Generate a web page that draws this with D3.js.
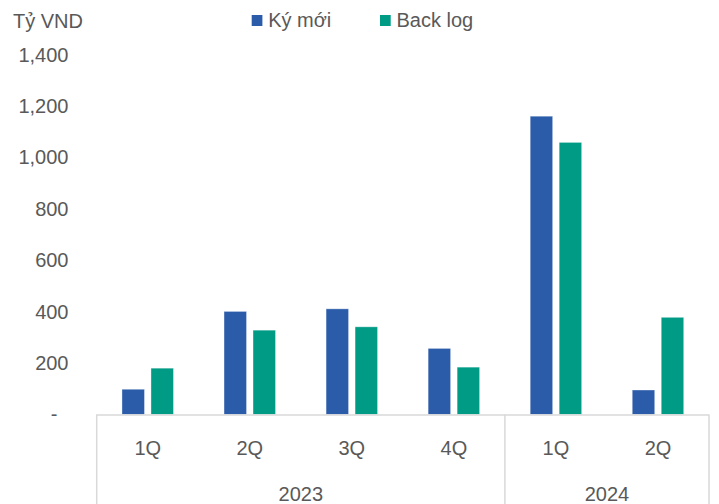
<!DOCTYPE html>
<html>
<head>
<meta charset="utf-8">
<script src="https://cdn.jsdelivr.net/npm/d3@7"></script>
<style>
  html, body { margin: 0; padding: 0; background: #fff; }
  svg { display: block; }
  text { font-family: "Liberation Sans", Arial, sans-serif; fill: #595959; }
</style>
</head>
<body>
<svg id="chart" width="719" height="504"></svg>
<script>
// Quarterly contract values (tỷ VND)
const quarters = ["1Q", "2Q", "3Q", "4Q", "1Q", "2Q"];
const years = ["2023", "2023", "2023", "2023", "2024", "2024"];
const yearGroups = ["2023", "2024"];
const seriesNames = ["Ký mới", "Back log"];
const kyMoi = [98, 401, 411, 257, 1161, 95];
const backLog = [180, 328, 341, 184, 1059, 378];
const yTicks = [0, 200, 400, 600, 800, 1000, 1200, 1400];
const unitLabel = "Tỷ VND";

const colors = { "Ký mới": "#2b5caa", "Back log": "#009b85" };

const svg = d3.select("#chart");
const plot = { left: 96.7, right: 709, top: 54.8, bottom: 414.4 };

const rows = quarters.map((q, i) => ({
  key: i, quarter: q, year: years[i],
  values: { "Ký mới": kyMoi[i], "Back log": backLog[i] }
}));

const y = d3.scaleLinear().domain([0, 1400]).range([plot.bottom, plot.top]);
const x0 = d3.scaleBand().domain(rows.map(r => r.key)).range([plot.left, plot.right]).padding(0);
const clusterW = 51.5;
const x1 = d3.scaleBand().domain(seriesNames)
  .range([(x0.bandwidth() - clusterW) / 2, (x0.bandwidth() + clusterW) / 2])
  .paddingInner(0.224).paddingOuter(0);

// Y axis: labels only
const yAxis = d3.axisLeft(y).tickValues(yTicks).tickSize(0).tickPadding(0)
  .tickFormat(d => d === 0 ? "-" : d3.format(",")(d));
const gy = svg.append("g").attr("transform", "translate(68.5,0)").call(yAxis);
gy.select(".domain").remove();
gy.selectAll("text").style("font-size", "20px").attr("fill", "#595959")
  .attr("font-family", "Liberation Sans, Arial, sans-serif")
  .attr("dx", d => d === 0 ? -11 : 0);

// Bars
const groups = svg.append("g").selectAll("g").data(rows).join("g")
  .attr("transform", d => `translate(${x0(d.key)},0)`);
groups.selectAll("rect")
  .data(d => seriesNames.map(s => ({ s, v: d.values[s] })))
  .join("rect")
  .attr("x", d => x1(d.s))
  .attr("width", x1.bandwidth())
  .attr("y", d => y(d.v))
  .attr("height", d => y(0) - y(d.v))
  .attr("fill", d => colors[d.s])
  .attr("stroke", "rgba(255,255,255,0.45)")
  .attr("stroke-width", 0.8);

// Category axis box
const axisColor = "#d9d9d9";
const boxBottom = 504;
svg.append("line")
  .attr("x1", plot.left).attr("x2", plot.right)
  .attr("y1", plot.bottom + 0.5).attr("y2", plot.bottom + 0.5)
  .attr("stroke", axisColor).attr("stroke-width", 1.5);

// Year spans and separators
const yearSpans = yearGroups.map(yr => {
  const idx = rows.filter(r => r.year === yr).map(r => r.key);
  return { year: yr, x0: x0(idx[0]), x1: x0(idx[idx.length - 1]) + x0.bandwidth() };
});
const seps = [plot.left, ...yearSpans.map(s => s.x1)];
svg.append("g").selectAll("line").data(seps).join("line")
  .attr("x1", d => d).attr("x2", d => d)
  .attr("y1", plot.bottom).attr("y2", boxBottom)
  .attr("stroke", axisColor).attr("stroke-width", 1.5);

// Quarter labels
svg.append("g").selectAll("text").data(rows).join("text")
  .attr("x", d => x0(d.key) + x0.bandwidth() / 2)
  .attr("y", 455)
  .attr("text-anchor", "middle")
  .style("font-size", "20px")
  .text(d => d.quarter);

// Year labels
svg.append("g").selectAll("text").data(yearSpans).join("text")
  .attr("x", d => (d.x0 + d.x1) / 2)
  .attr("y", 500.5)
  .attr("text-anchor", "middle")
  .style("font-size", "20px")
  .text(d => d.year);

// Unit label
svg.append("text").attr("x", 13).attr("y", 27.5)
  .style("font-size", "20px").text(unitLabel);

// Legend
const legendX = [251.7, 380];
const legend = svg.append("g").selectAll("g").data(seriesNames).join("g")
  .attr("transform", (d, i) => `translate(${legendX[i]},0)`);
legend.append("rect").attr("x", 0).attr("y", 15).attr("width", 10.7).attr("height", 11)
  .attr("fill", d => colors[d]);
legend.append("text").attr("x", 16.5).attr("y", 27)
  .style("font-size", "20px").text(d => d);
</script>
</body>
</html>
